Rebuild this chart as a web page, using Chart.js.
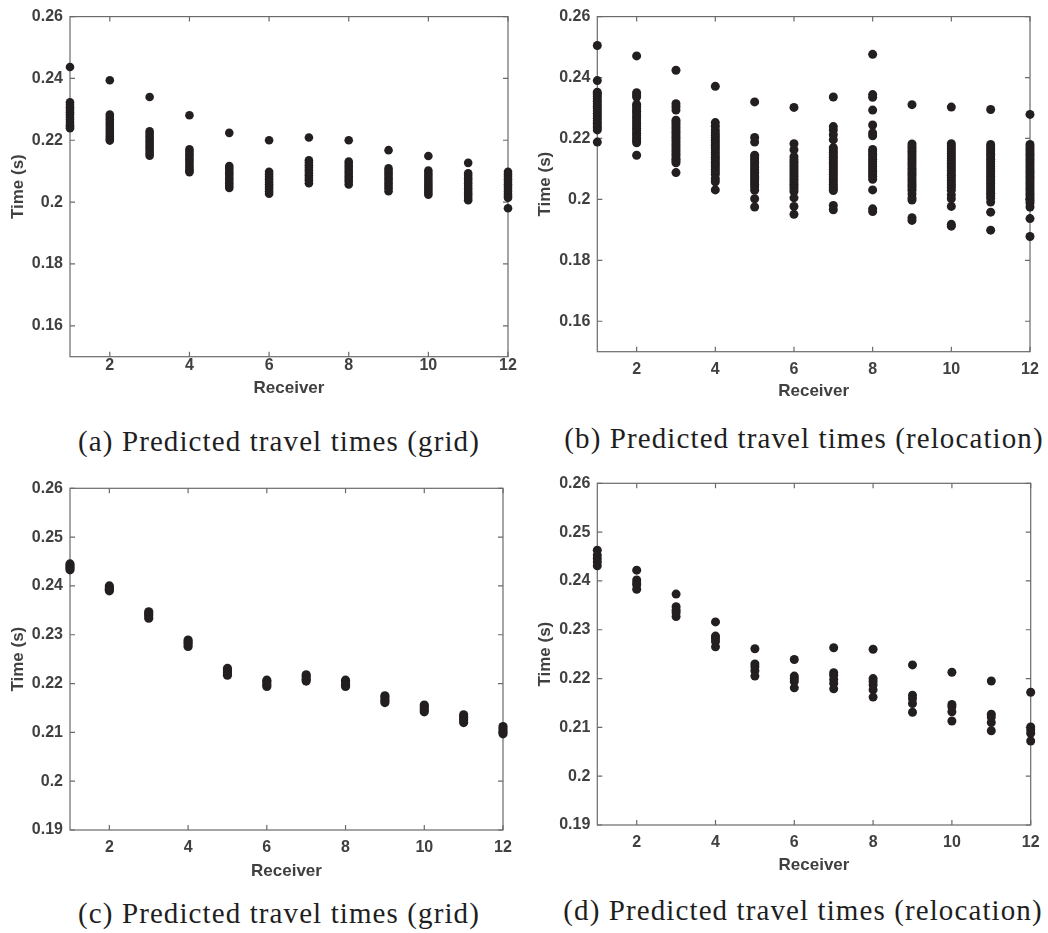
<!DOCTYPE html>
<html>
<head>
<meta charset="utf-8">
<script src="https://cdn.jsdelivr.net/npm/chart.js@4/dist/chart.umd.min.js"></script>
<style>
  html, body { margin: 0; padding: 0; background: #ffffff; }
  #page { position: relative; width: 1048px; height: 933px; overflow: hidden; background: #ffffff; }
  canvas { position: absolute; }
  .caption {
    position: absolute;
    font-family: "Liberation Serif", "DejaVu Serif", serif;
    font-size: 29px;
    letter-spacing: 1.1px;
    color: #1e1e1e;
    white-space: nowrap;
    line-height: 1;
    transform: translate(-50%, -50%);
  }
</style>
</head>
<body>
<div id="page">
  <canvas id="chartA" width="520" height="410" style="left:0px;top:0px"></canvas>
  <canvas id="chartB" width="528" height="410" style="left:520px;top:0px"></canvas>
  <canvas id="chartC" width="520" height="430" style="left:0px;top:460px"></canvas>
  <canvas id="chartD" width="528" height="430" style="left:520px;top:460px"></canvas>
  <div class="caption" style="left:279px;top:441px">(a) Predicted travel times (grid)</div>
  <div class="caption" style="left:804px;top:438px">(b) Predicted travel times (relocation)</div>
  <div class="caption" style="left:279px;top:913px">(c) Predicted travel times (grid)</div>
  <div class="caption" style="left:803px;top:910px">(d) Predicted travel times (relocation)</div>
</div>
<script>
// Receiver numbers along the x axis
const receivers = [1, 2, 3, 4, 5, 6, 7, 8, 9, 10, 11, 12];
const receiverTicks = [2, 4, 6, 8, 10, 12];

// Y tick values for the two axis ranges
const timeTicksWide = [0.16, 0.18, 0.20, 0.22, 0.24, 0.26];
const timeTicksNarrow = [0.19, 0.20, 0.21, 0.22, 0.23, 0.24, 0.25, 0.26];

// (a) predicted travel times, grid search — one list per receiver
const gridTimesA = [
  [0.2437, 0.2323, 0.2315, 0.2307, 0.2299, 0.2291, 0.2283, 0.2275, 0.2267, 0.2259, 0.2251, 0.2245, 0.2239],
  [0.2394, 0.2283, 0.2275, 0.2267, 0.2259, 0.2251, 0.2243, 0.2235, 0.2227, 0.2219, 0.2211, 0.2205, 0.2199],
  [0.2340, 0.2229, 0.2221, 0.2213, 0.2205, 0.2197, 0.2189, 0.2181, 0.2173, 0.2165, 0.2157, 0.2150],
  [0.2281, 0.2171, 0.2163, 0.2155, 0.2147, 0.2139, 0.2131, 0.2123, 0.2115, 0.2107, 0.2101, 0.2097],
  [0.2224, 0.2117, 0.2109, 0.2101, 0.2093, 0.2085, 0.2077, 0.2069, 0.2061, 0.2053, 0.2046],
  [0.2200, 0.2098, 0.2090, 0.2082, 0.2074, 0.2066, 0.2058, 0.2050, 0.2042, 0.2034, 0.2027],
  [0.2209, 0.2135, 0.2127, 0.2119, 0.2111, 0.2103, 0.2095, 0.2087, 0.2079, 0.2071, 0.2061],
  [0.2200, 0.2131, 0.2123, 0.2115, 0.2107, 0.2099, 0.2091, 0.2083, 0.2075, 0.2067, 0.2057],
  [0.2168, 0.2109, 0.2101, 0.2093, 0.2085, 0.2077, 0.2069, 0.2061, 0.2053, 0.2045, 0.2035],
  [0.2149, 0.2102, 0.2094, 0.2086, 0.2078, 0.2070, 0.2062, 0.2054, 0.2046, 0.2038, 0.2030, 0.2024],
  [0.2127, 0.2093, 0.2085, 0.2077, 0.2069, 0.2061, 0.2053, 0.2045, 0.2037, 0.2029, 0.2021, 0.2013, 0.2006],
  [0.2098, 0.2090, 0.2082, 0.2074, 0.2066, 0.2058, 0.2050, 0.2042, 0.2034, 0.2026, 0.2020, 0.2014, 0.1980]
];

// (b) predicted travel times, relocation
const relocTimesB = [
  [0.2505, 0.2390, 0.2352, 0.2345, 0.2338, 0.2330, 0.2322, 0.2314, 0.2306, 0.2298, 0.2290, 0.2282, 0.2274, 0.2266, 0.2258, 0.2250, 0.2242, 0.2235, 0.2228, 0.2188],
  [0.2471, 0.2350, 0.2343, 0.2336, 0.2312, 0.2305, 0.2297, 0.2289, 0.2281, 0.2273, 0.2265, 0.2257, 0.2249, 0.2241, 0.2233, 0.2225, 0.2217, 0.2209, 0.2201, 0.2193, 0.2186, 0.2145],
  [0.2424, 0.2314, 0.2304, 0.2293, 0.2260, 0.2252, 0.2244, 0.2236, 0.2228, 0.2220, 0.2212, 0.2204, 0.2196, 0.2188, 0.2180, 0.2172, 0.2164, 0.2156, 0.2148, 0.2140, 0.2132, 0.2127, 0.2120, 0.2088],
  [0.2371, 0.2252, 0.2240, 0.2228, 0.2218, 0.2210, 0.2202, 0.2194, 0.2186, 0.2178, 0.2170, 0.2162, 0.2154, 0.2146, 0.2138, 0.2130, 0.2122, 0.2114, 0.2106, 0.2098, 0.2090, 0.2082, 0.2068, 0.2058, 0.2031],
  [0.2320, 0.2203, 0.2188, 0.2145, 0.2137, 0.2129, 0.2121, 0.2113, 0.2105, 0.2097, 0.2089, 0.2081, 0.2073, 0.2065, 0.2057, 0.2049, 0.2041, 0.2030, 0.2002, 0.1975],
  [0.2302, 0.2183, 0.2163, 0.2140, 0.2130, 0.2122, 0.2114, 0.2106, 0.2098, 0.2090, 0.2082, 0.2074, 0.2066, 0.2058, 0.2050, 0.2042, 0.2034, 0.2026, 0.2005, 0.1977, 0.1951],
  [0.2336, 0.2239, 0.2228, 0.2212, 0.2196, 0.2170, 0.2162, 0.2154, 0.2146, 0.2138, 0.2130, 0.2122, 0.2114, 0.2106, 0.2098, 0.2090, 0.2082, 0.2074, 0.2066, 0.2058, 0.2050, 0.2042, 0.2035, 0.2029, 0.1980, 0.1966],
  [0.2476, 0.2344, 0.2335, 0.2293, 0.2244, 0.2218, 0.2209, 0.2164, 0.2156, 0.2148, 0.2140, 0.2132, 0.2124, 0.2116, 0.2108, 0.2100, 0.2092, 0.2084, 0.2076, 0.2066, 0.2031, 0.1969, 0.1960],
  [0.2311, 0.2182, 0.2174, 0.2166, 0.2158, 0.2150, 0.2142, 0.2134, 0.2126, 0.2118, 0.2110, 0.2102, 0.2094, 0.2086, 0.2078, 0.2070, 0.2062, 0.2054, 0.2046, 0.2038, 0.2030, 0.2018, 0.2005, 0.1998, 0.1940, 0.1931],
  [0.2303, 0.2183, 0.2175, 0.2167, 0.2159, 0.2151, 0.2143, 0.2135, 0.2127, 0.2119, 0.2111, 0.2103, 0.2095, 0.2087, 0.2079, 0.2071, 0.2063, 0.2055, 0.2047, 0.2039, 0.2030, 0.2015, 0.2002, 0.1977, 0.1918, 0.1912],
  [0.2295, 0.2180, 0.2172, 0.2164, 0.2156, 0.2148, 0.2140, 0.2132, 0.2124, 0.2116, 0.2108, 0.2100, 0.2092, 0.2084, 0.2076, 0.2068, 0.2060, 0.2052, 0.2044, 0.2036, 0.2028, 0.2020, 0.2012, 0.2004, 0.1991, 0.1958, 0.1899],
  [0.2279, 0.2180, 0.2172, 0.2164, 0.2156, 0.2148, 0.2140, 0.2132, 0.2124, 0.2116, 0.2108, 0.2100, 0.2092, 0.2084, 0.2076, 0.2068, 0.2060, 0.2052, 0.2044, 0.2036, 0.2028, 0.2020, 0.2012, 0.2004, 0.1996, 0.1988, 0.1975, 0.1937, 0.1878]
];

// (c) predicted travel times, grid search (second data set)
const gridTimesC = [
  [0.2445, 0.2441, 0.2437, 0.2433],
  [0.2400, 0.2396, 0.2393, 0.2390],
  [0.2347, 0.2343, 0.2339, 0.2334],
  [0.2289, 0.2285, 0.2281, 0.2276],
  [0.2231, 0.2227, 0.2222, 0.2217],
  [0.2207, 0.2203, 0.2198, 0.2194],
  [0.2218, 0.2214, 0.2209, 0.2205],
  [0.2207, 0.2203, 0.2198, 0.2194],
  [0.2175, 0.2171, 0.2166, 0.2161],
  [0.2156, 0.2152, 0.2147, 0.2142],
  [0.2136, 0.2131, 0.2126, 0.2120],
  [0.2112, 0.2107, 0.2102, 0.2097]
];

// (d) predicted travel times, relocation (second data set)
const relocTimesD = [
  [0.2463, 0.2453, 0.2446, 0.2439, 0.2431],
  [0.2422, 0.2402, 0.2396, 0.2392, 0.2383],
  [0.2373, 0.2347, 0.2340, 0.2335, 0.2327],
  [0.2316, 0.2287, 0.2282, 0.2276, 0.2265],
  [0.2261, 0.2230, 0.2224, 0.2216, 0.2205],
  [0.2239, 0.2205, 0.2200, 0.2194, 0.2181],
  [0.2263, 0.2212, 0.2207, 0.2198, 0.2190, 0.2179],
  [0.2260, 0.2200, 0.2194, 0.2187, 0.2177, 0.2162],
  [0.2228, 0.2166, 0.2159, 0.2149, 0.2131],
  [0.2213, 0.2147, 0.2142, 0.2132, 0.2113],
  [0.2195, 0.2127, 0.2121, 0.2110, 0.2093],
  [0.2172, 0.2101, 0.2095, 0.2088, 0.2072]
];

const AXIS_COLOR = '#6a6a6a';
const LABEL_COLOR = '#404040';
const DOT_COLOR = '#231f20';

Chart.defaults.font.family = "'Liberation Sans', Arial, Helvetica, sans-serif";

// Box around the plot with inward-pointing ticks on all four sides
const boxedAxes = {
  id: 'boxedAxes',
  beforeDatasetsDraw(chart) {
    const { ctx, chartArea: { left, right, top, bottom }, scales: { x, y } } = chart;
    const len = 5;
    ctx.save();
    ctx.strokeStyle = AXIS_COLOR;
    ctx.lineWidth = 1.2;
    ctx.strokeRect(left, top, right - left, bottom - top);
    ctx.beginPath();
    x.ticks.forEach(t => {
      const px = x.getPixelForValue(t.value);
      ctx.moveTo(px, bottom); ctx.lineTo(px, bottom - len);
      ctx.moveTo(px, top); ctx.lineTo(px, top + len);
    });
    y.ticks.forEach(t => {
      const py = y.getPixelForValue(t.value);
      ctx.moveTo(left, py); ctx.lineTo(left + len, py);
      ctx.moveTo(right, py); ctx.lineTo(right - len, py);
    });
    ctx.stroke();
    ctx.restore();
  }
};

function toPoints(columns) {
  const pts = [];
  columns.forEach((vals, i) => {
    vals.forEach(v => pts.push({ x: receivers[i], y: v }));
  });
  return pts;
}

function makePanel(id, columns, cfg) {
  new Chart(document.getElementById(id), {
    type: 'scatter',
    data: {
      datasets: [{
        data: toPoints(columns),
        backgroundColor: DOT_COLOR,
        borderColor: DOT_COLOR,
        borderWidth: 0,
        pointRadius: cfg.radius,
        pointHoverRadius: cfg.radius,
        clip: false
      }]
    },
    options: {
      responsive: false,
      animation: false,
      events: [],
      layout: { padding: { top: cfg.padTop, right: cfg.padRight, left: 0, bottom: 0 } },
      plugins: { legend: { display: false }, tooltip: { enabled: false } },
      scales: {
        x: {
          type: 'linear',
          min: 1,
          max: 12,
          grid: { display: false, drawTicks: false },
          border: { display: false },
          afterBuildTicks: s => { s.ticks = receiverTicks.map(v => ({ value: v })); },
          afterFit: s => { s.height = cfg.xHeight; },
          ticks: {
            padding: cfg.xTickPad,
            color: LABEL_COLOR,
            font: { size: 16, weight: 'bold' },
            maxRotation: 0,
            callback: v => String(v)
          },
          title: {
            display: true,
            text: 'Receiver',
            color: LABEL_COLOR,
            font: { size: 17, weight: 'bold' },
            padding: { top: 0, bottom: cfg.xTitlePad }
          }
        },
        y: {
          type: 'linear',
          min: cfg.yMin,
          max: 0.26,
          grid: { display: false, drawTicks: false },
          border: { display: false },
          afterBuildTicks: s => { s.ticks = cfg.yTicks.map(v => ({ value: v })); },
          afterFit: s => { s.width = cfg.yWidth; },
          ticks: {
            padding: 7,
            color: LABEL_COLOR,
            font: { size: 16, weight: 'bold' },
            callback: v => String(parseFloat(v.toFixed(2)))
          },
          title: {
            display: true,
            text: 'Time (s)',
            color: LABEL_COLOR,
            font: { size: 17, weight: 'bold' },
            padding: { top: cfg.yTitlePad, bottom: 0 }
          }
        }
      }
    },
    plugins: [boxedAxes]
  });
}

makePanel('chartA', gridTimesA, {
  radius: 4.3, yMin: 0.15, yTicks: timeTicksWide,
  padTop: 15, padRight: 12, yWidth: 70, xHeight: 53.3,
  xTickPad: -1, xTitlePad: 11.8, yTitlePad: 7.8
});
makePanel('chartB', relocTimesB, {
  radius: 4.5, yMin: 0.15, yTicks: timeTicksWide,
  padTop: 10, padRight: 18, yWidth: 77.3, xHeight: 58.3,
  xTickPad: 8.7, xTitlePad: 8.1, yTitlePad: 14.8
});
makePanel('chartC', gridTimesC, {
  radius: 4.6, yMin: 0.19, yTicks: timeTicksNarrow,
  padTop: 28.3, padRight: 12, yWidth: 70, xHeight: 60,
  xTickPad: 8.1, xTitlePad: 8.1, yTitlePad: 7.8
});
makePanel('chartD', relocTimesD, {
  radius: 4.5, yMin: 0.19, yTicks: timeTicksNarrow,
  padTop: 23.3, padRight: 17.3, yWidth: 77.3, xHeight: 65,
  xTickPad: 8.1, xTitlePad: 14.8, yTitlePad: 14.8
});
</script>
</body>
</html>
